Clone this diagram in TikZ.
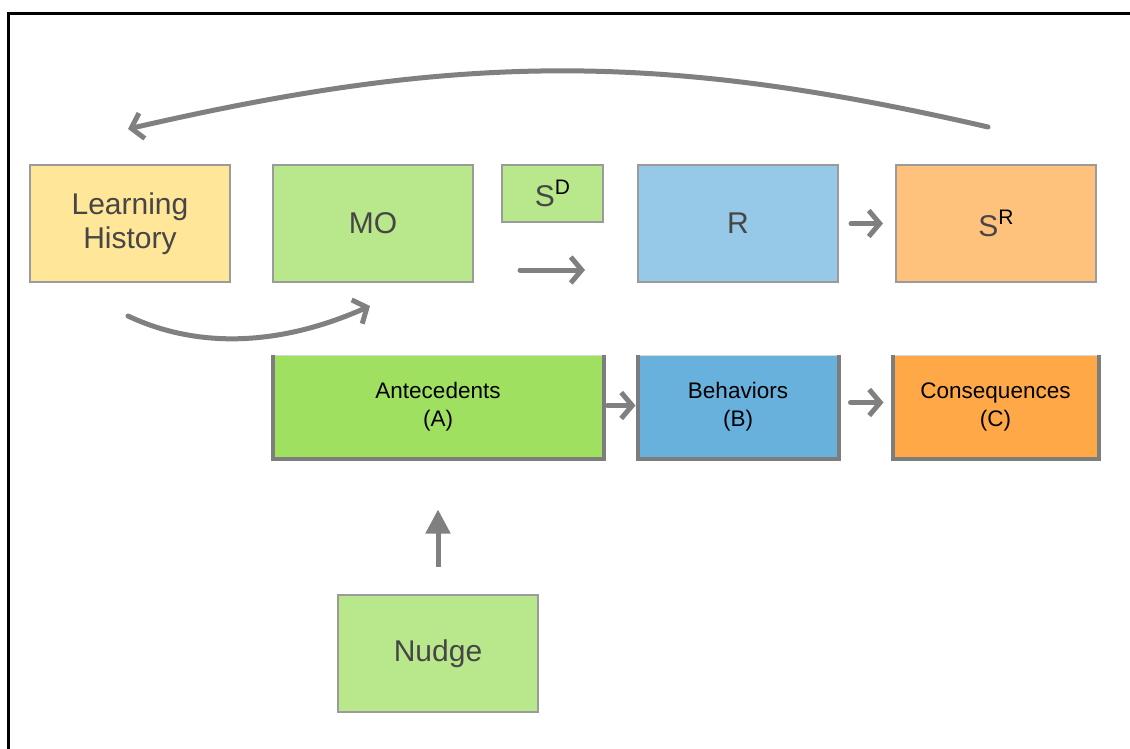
\documentclass[tikz,border=0pt]{standalone}
\usepackage{fontspec}
\setmainfont{Liberation Sans}
\usetikzlibrary{arrows.meta}
\definecolor{arrowgray}{RGB}{128,128,128}
\definecolor{boxline}{RGB}{155,155,155}
\definecolor{sidegray}{RGB}{125,125,125}
\definecolor{softyellow}{RGB}{255,230,153}
\definecolor{softgreen}{RGB}{185,232,140}
\definecolor{softblue}{RGB}{150,200,232}
\definecolor{softorange}{RGB}{255,194,125}
\definecolor{deepgreen}{RGB}{160,224,96}
\definecolor{deepblue}{RGB}{103,177,220}
\definecolor{deeporange}{RGB}{255,168,72}
\definecolor{toptext}{RGB}{70,70,70}
\newcommand{\supr}[1]{S\raisebox{0.4em}{\color{black}\fontsize{21}{21}\selectfont #1}}
\tikzset{
  topbox/.style={rectangle,draw=boxline,line width=2pt,fill=#1,align=center,minimum width=200pt,minimum height=117pt,text=toptext,font=\fontsize{30}{34}\selectfont},
  lowbox/.style={rectangle,draw=boxline!40,line width=1pt,fill=#1,align=center,minimum width=200pt,minimum height=103pt,font=\fontsize{22.5}{28}\selectfont},
  sideline/.style={sidegray,line width=4pt},
  chev/.style={-{Straight Barb[length=11pt,width=26pt]},arrowgray,line width=5pt,line cap=round,line join=round},
  uparrow/.style={-{Triangle[length=24pt,width=24pt]},arrowgray,line width=5pt}
}
\begin{document}
\begin{tikzpicture}[x=1pt,y=-1pt]
  \useasboundingbox (0,0) rectangle (1130,749);
  \draw[line width=3pt] (8,749) -- (8,14) -- (1130,14);

  \node[topbox=softyellow] (lh) at (130,223.5) {Learning\\History};
  \node[topbox=softgreen] (mo) at (373,223.5) {MO};
  \node[topbox=softgreen,minimum width=101pt,minimum height=57pt] (sd) at (552.5,193.5) {\supr{D}};
  \node[topbox=softblue] (r) at (738,223.5) {R};
  \node[topbox=softorange] (sr) at (996,223.5) {\supr{R}};

  \node[lowbox=deepgreen,minimum width=330pt] (ante) at (438,406.5) {Antecedents\\(A)};
  \node[lowbox=deepblue] (beh) at (738,406.5) {Behaviors\\(B)};
  \node[lowbox=deeporange,minimum width=205pt] (cons) at (995.5,406.5) {Consequences\\(C)};
  \foreach \n in {ante,beh,cons}
    \draw[sideline] (\n.north west) -- (\n.south west) -- (\n.south east) -- (\n.north east);

  \node[topbox=softgreen] (nudge) at (438,653.5) {Nudge};

  \coordinate (sdtail) at (520,270);
  \coordinate (sdhead) at (585,270);

  \draw[chev] ([xshift=-8pt,yshift=37pt]sr.north) .. controls +(-330,-76) and +(330,-76) .. ([xshift=-2pt,yshift=35pt]lh.north);
  \draw[chev] ([xshift=-2pt,yshift=-33pt]lh.south) .. controls +(70,33) and +(-90,40) .. ([xshift=-3pt,yshift=-23pt]mo.south);
  \draw[chev] (sdtail) -- (sdhead);
  \draw[chev,shorten <=12pt,shorten >=12pt] (r) -- (sr);
  \draw[chev,shorten <=4pt,shorten >=2pt] ([yshift=1pt]ante.east) -- ([yshift=1pt]beh.west);
  \draw[chev,shorten <=12pt,shorten >=9pt] ([yshift=4pt]beh.east) -- ([yshift=4pt]cons.west);
  \draw[uparrow,shorten <=27pt,shorten >=51pt] (nudge) -- (ante);
\end{tikzpicture}
\end{document}
